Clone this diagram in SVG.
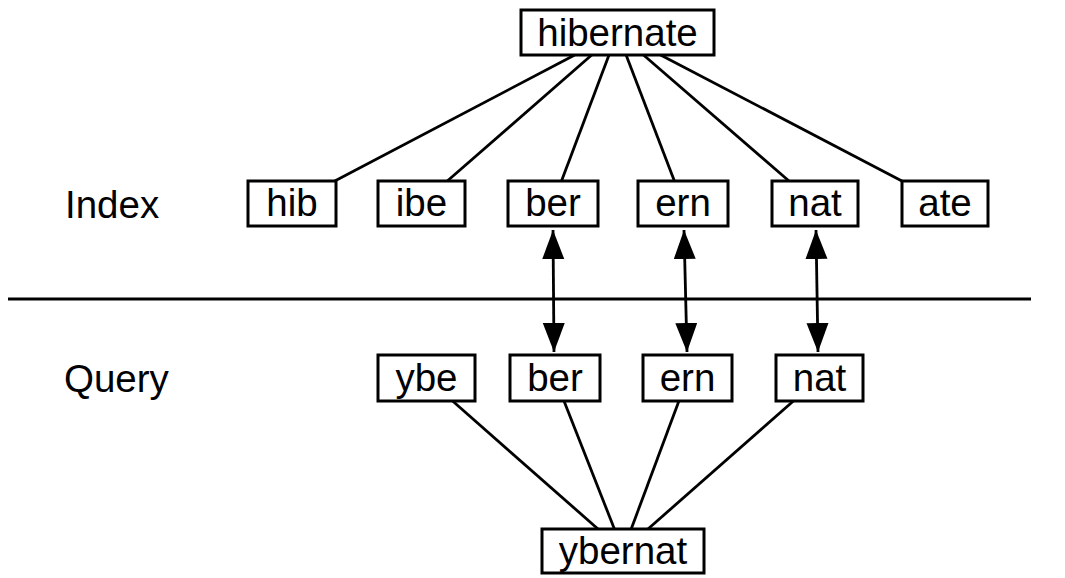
<svg xmlns="http://www.w3.org/2000/svg" width="1065" height="578" viewBox="0 0 1065 578">
<style>
.box{fill:#fff;stroke:#000;stroke-width:3}
.lbl{font-family:"Liberation Sans",Arial,sans-serif;font-size:38.5px;fill:#000;text-anchor:middle}
.side{font-family:"Liberation Sans",Arial,sans-serif;font-size:38.5px;fill:#000}
.ln{stroke:#000;stroke-width:2.8;fill:none}
</style>
<defs>
<marker id="ah" markerUnits="userSpaceOnUse" markerWidth="30" markerHeight="24" refX="29" refY="11" orient="auto-start-reverse">
<polygon points="0,0 29,11 0,22" fill="#000"/>
</marker>
</defs>
<rect width="1065" height="578" fill="#fff"/>
<g id="connectors">
<line class="ln" x1="8" y1="299" x2="1031" y2="299"/>
<line class="ln" x1="574.7" y1="55" x2="334.8" y2="181"/>
<line class="ln" x1="591.7" y1="55" x2="447.3" y2="181"/>
<line class="ln" x1="609" y1="55" x2="561.5" y2="181"/>
<line class="ln" x1="626.1" y1="55" x2="674.4" y2="181"/>
<line class="ln" x1="643.5" y1="55" x2="789" y2="181"/>
<line class="ln" x1="660.6" y1="55" x2="901.9" y2="181"/>
<line class="ln" x1="452.6" y1="401" x2="598" y2="529"/>
<line class="ln" x1="564" y1="401" x2="614.4" y2="529"/>
<line class="ln" x1="678.9" y1="401" x2="631.2" y2="529"/>
<line class="ln" x1="793.4" y1="401" x2="648" y2="529"/>
<line class="ln" x1="553" y1="230" x2="554" y2="352" marker-start="url(#ah)" marker-end="url(#ah)"/>
<line class="ln" x1="684" y1="230" x2="687" y2="352" marker-start="url(#ah)" marker-end="url(#ah)"/>
<line class="ln" x1="816" y1="230" x2="818" y2="352" marker-start="url(#ah)" marker-end="url(#ah)"/>
</g>
<text class="side" x="65" y="218">Index</text>
<text class="side" x="64" y="392">Query</text>
<g id="hibernate"><rect class="box" x="521" y="10" width="193" height="45"/><text class="lbl" x="617.5" y="45.5">hibernate</text></g>
<g id="i-hib"><rect class="box" x="248" y="181" width="88" height="45"/><text class="lbl" x="292" y="216">hib</text></g>
<g id="i-ibe"><rect class="box" x="378" y="181" width="87" height="45"/><text class="lbl" x="421.5" y="216">ibe</text></g>
<g id="i-ber"><rect class="box" x="508" y="181" width="90" height="45"/><text class="lbl" x="553" y="216">ber</text></g>
<g id="i-ern"><rect class="box" x="638" y="181" width="90" height="45"/><text class="lbl" x="683" y="216">ern</text></g>
<g id="i-nat"><rect class="box" x="772" y="181" width="86" height="45"/><text class="lbl" x="815" y="216">nat</text></g>
<g id="i-ate"><rect class="box" x="902" y="181" width="86" height="45"/><text class="lbl" x="945" y="216">ate</text></g>
<g id="q-ybe"><rect class="box" x="378" y="355" width="97" height="46"/><text class="lbl" x="426.5" y="391">ybe</text></g>
<g id="q-ber"><rect class="box" x="510" y="355" width="90" height="46"/><text class="lbl" x="555" y="391">ber</text></g>
<g id="q-ern"><rect class="box" x="643" y="355" width="89" height="46"/><text class="lbl" x="687.5" y="391">ern</text></g>
<g id="q-nat"><rect class="box" x="776" y="355" width="87" height="46"/><text class="lbl" x="819.5" y="391">nat</text></g>
<g id="ybernat"><rect class="box" x="542" y="529" width="162" height="44"/><text class="lbl" x="623" y="563.5">ybernat</text></g>
</svg>
